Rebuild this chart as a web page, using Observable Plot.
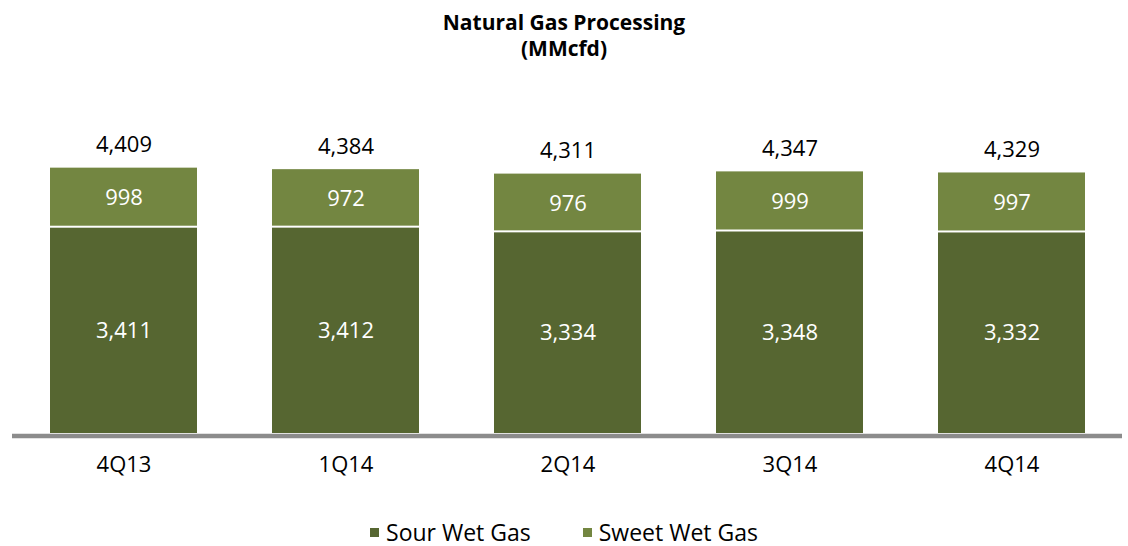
<!DOCTYPE html>
<html>
<head>
<meta charset="utf-8">
<script src="https://cdn.jsdelivr.net/npm/d3@7"></script>
<script src="https://cdn.jsdelivr.net/npm/@observablehq/plot@0.6"></script>
<style>
  html, body { margin: 0; padding: 0; background: #fff; }
  body { width: 1128px; height: 546px; overflow: hidden; font-family: "Open Sans", sans-serif; }
  #title { text-align: center; font-weight: bold; font-size: 21px; line-height: 26px; padding-top: 9px; height: 66px; color: #000; }
  #legend { display: flex; justify-content: center; gap: 52px; margin-top: 34px; font-size: 23px; line-height: 26px; color: #000; }
  #legend .item { display: flex; align-items: center; }
  #legend .sw { width: 9px; height: 9px; margin-right: 7px; display: inline-block; }
  svg { display: block; }
</style>
</head>
<body>
<div id="title">Natural Gas Processing<br>(MMcfd)</div>
<div id="chart"></div>
<div id="legend"></div>
<script>
const categories = ["4Q13", "1Q14", "2Q14", "3Q14", "4Q14"];
const sourWetGas = [3411, 3412, 3334, 3348, 3332];
const sweetWetGas = [998, 972, 976, 999, 997];
const totals = [4409, 4384, 4311, 4347, 4329];
const seriesNames = ["Sour Wet Gas", "Sweet Wet Gas"];
const seriesColors = ["#566631", "#738641"];

const sourRows = categories.map((c, i) => ({cat: c, series: seriesNames[0], lo: 0, hi: sourWetGas[i], value: sourWetGas[i]}));
const sweetRows = categories.map((c, i) => ({cat: c, series: seriesNames[1], lo: sourWetGas[i], hi: sourWetGas[i] + sweetWetGas[i], value: sweetWetGas[i]}));
const rows = [...sourRows, ...sweetRows];
const totalRows = categories.map((c, i) => ({cat: c, value: totals[i]}));
const fmt = d3.format(",");
const font = "Open Sans";

const plot = Plot.plot({
  width: 1128,
  height: 410,
  marginLeft: 12,
  marginRight: 6,
  marginTop: 30,
  marginBottom: 52,
  style: {fontFamily: font, background: "white"},
  x: {domain: categories, paddingInner: 0.34, paddingOuter: 0.17, axis: null},
  y: {domain: [0, 5450], axis: null},
  color: {domain: seriesNames, range: seriesColors},
  marks: [
    Plot.barY(sourRows, {x: "cat", y1: "lo", y2: "hi", fill: "series"}),
    Plot.barY(sweetRows, {x: "cat", y1: "lo", y2: "hi", fill: "series", insetBottom: 2}),
    Plot.ruleY([0], {stroke: "#8c8c8c", strokeWidth: 4.5, dy: 2.5}),
    Plot.text(rows, {
      x: "cat", y: (d) => (d.lo + d.hi) / 2,
      text: (d) => fmt(d.value), fill: "white", fontSize: 22, lineAnchor: "middle"
    }),
    Plot.text(totalRows, {
      x: "cat", y: "value", text: (d) => fmt(d.value),
      fill: "black", fontSize: 22, lineAnchor: "bottom", dy: -16
    }),
    Plot.text(categories, {
      x: (d) => d, y: 0, text: (d) => d, fill: "black", fontSize: 22,
      lineAnchor: "top", dy: 23
    })
  ]
});
document.getElementById("chart").appendChild(plot);

const legend = document.getElementById("legend");
seriesNames.forEach((name, i) => {
  const item = document.createElement("span");
  item.className = "item";
  const sw = document.createElement("span");
  sw.className = "sw";
  sw.style.background = seriesColors[i];
  item.appendChild(sw);
  item.appendChild(document.createTextNode(name));
  legend.appendChild(item);
});
</script>
</body>
</html>
